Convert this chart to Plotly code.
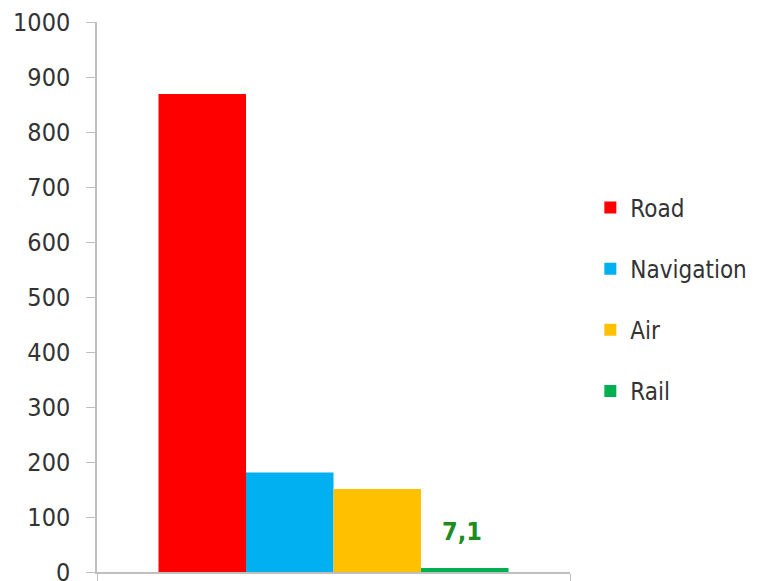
import plotly.graph_objects as go

categories = [""]
series_names = ["Road", "Navigation", "Air", "Rail"]
series_values = [869, 181, 151, 7.1]
series_colors = ["#FF0000", "#00B0F0", "#FFC000", "#00B050"]
y_ticks = [0, 100, 200, 300, 400, 500, 600, 700, 800, 900, 1000]
label_series = "Rail"

FONT = "DejaVu Sans Condensed, Lato, sans-serif"
BARGAP = 0.26

fig = go.Figure()
for name, val, col in zip(series_names, series_values, series_colors):
    fig.add_trace(go.Bar(
        x=categories, y=[val], name=name, marker=dict(color=col, line=dict(width=0)),
        legendgroup=name))

# value label above the Rail bar, positioned from the bar's slot in the group
idx = series_names.index(label_series)
n = len(series_names)
bar_w = (1 - BARGAP) / n
x_pos = -(1 - BARGAP) / 2 + bar_w * (idx + 0.5)
fig.add_annotation(
    x=x_pos, y=series_values[idx], xref="x", yref="y",
    text=f"{series_values[idx]:.1f}".replace(".", ","),
    showarrow=False, yanchor="bottom", yshift=20, xshift=-3,
    font=dict(family=FONT, size=25, color="#1E8C1E", weight="bold"),
)

fig.update_layout(
    width=763, height=581,
    margin=dict(l=89, r=201, t=14, b=17),
    paper_bgcolor="white", plot_bgcolor="white",
    separators=", ",
    barmode="group", bargap=BARGAP, bargroupgap=0,
    font=dict(family=FONT, size=25, color="#333333"),
    showlegend=True,
    legend=dict(x=1.043, y=0.703, xanchor="left", yanchor="top",
                traceorder="grouped", tracegroupgap=27,
                font=dict(family=FONT, size=24, color="#333333"),
                itemwidth=30),
    xaxis=dict(showline=True, linecolor="#BFBFBF", linewidth=1.5, automargin=False,
               ticks="outside", tickson="boundaries", ticklen=8, tickcolor="#BFBFBF",
               showticklabels=False, showgrid=False, zeroline=False, fixedrange=True),
    yaxis=dict(range=[0, 1000], tickvals=y_ticks, showline=True, linecolor="#BFBFBF",
               linewidth=1.5, ticks="outside", ticklen=9, tickcolor="#BFBFBF",
               showgrid=False, zeroline=False, ticklabelstandoff=11, automargin=False,
               ticklabeloverflow="allow",
               tickfont=dict(family=FONT, size=25, color="#333333")),
)

fig.write_html("out.html")
